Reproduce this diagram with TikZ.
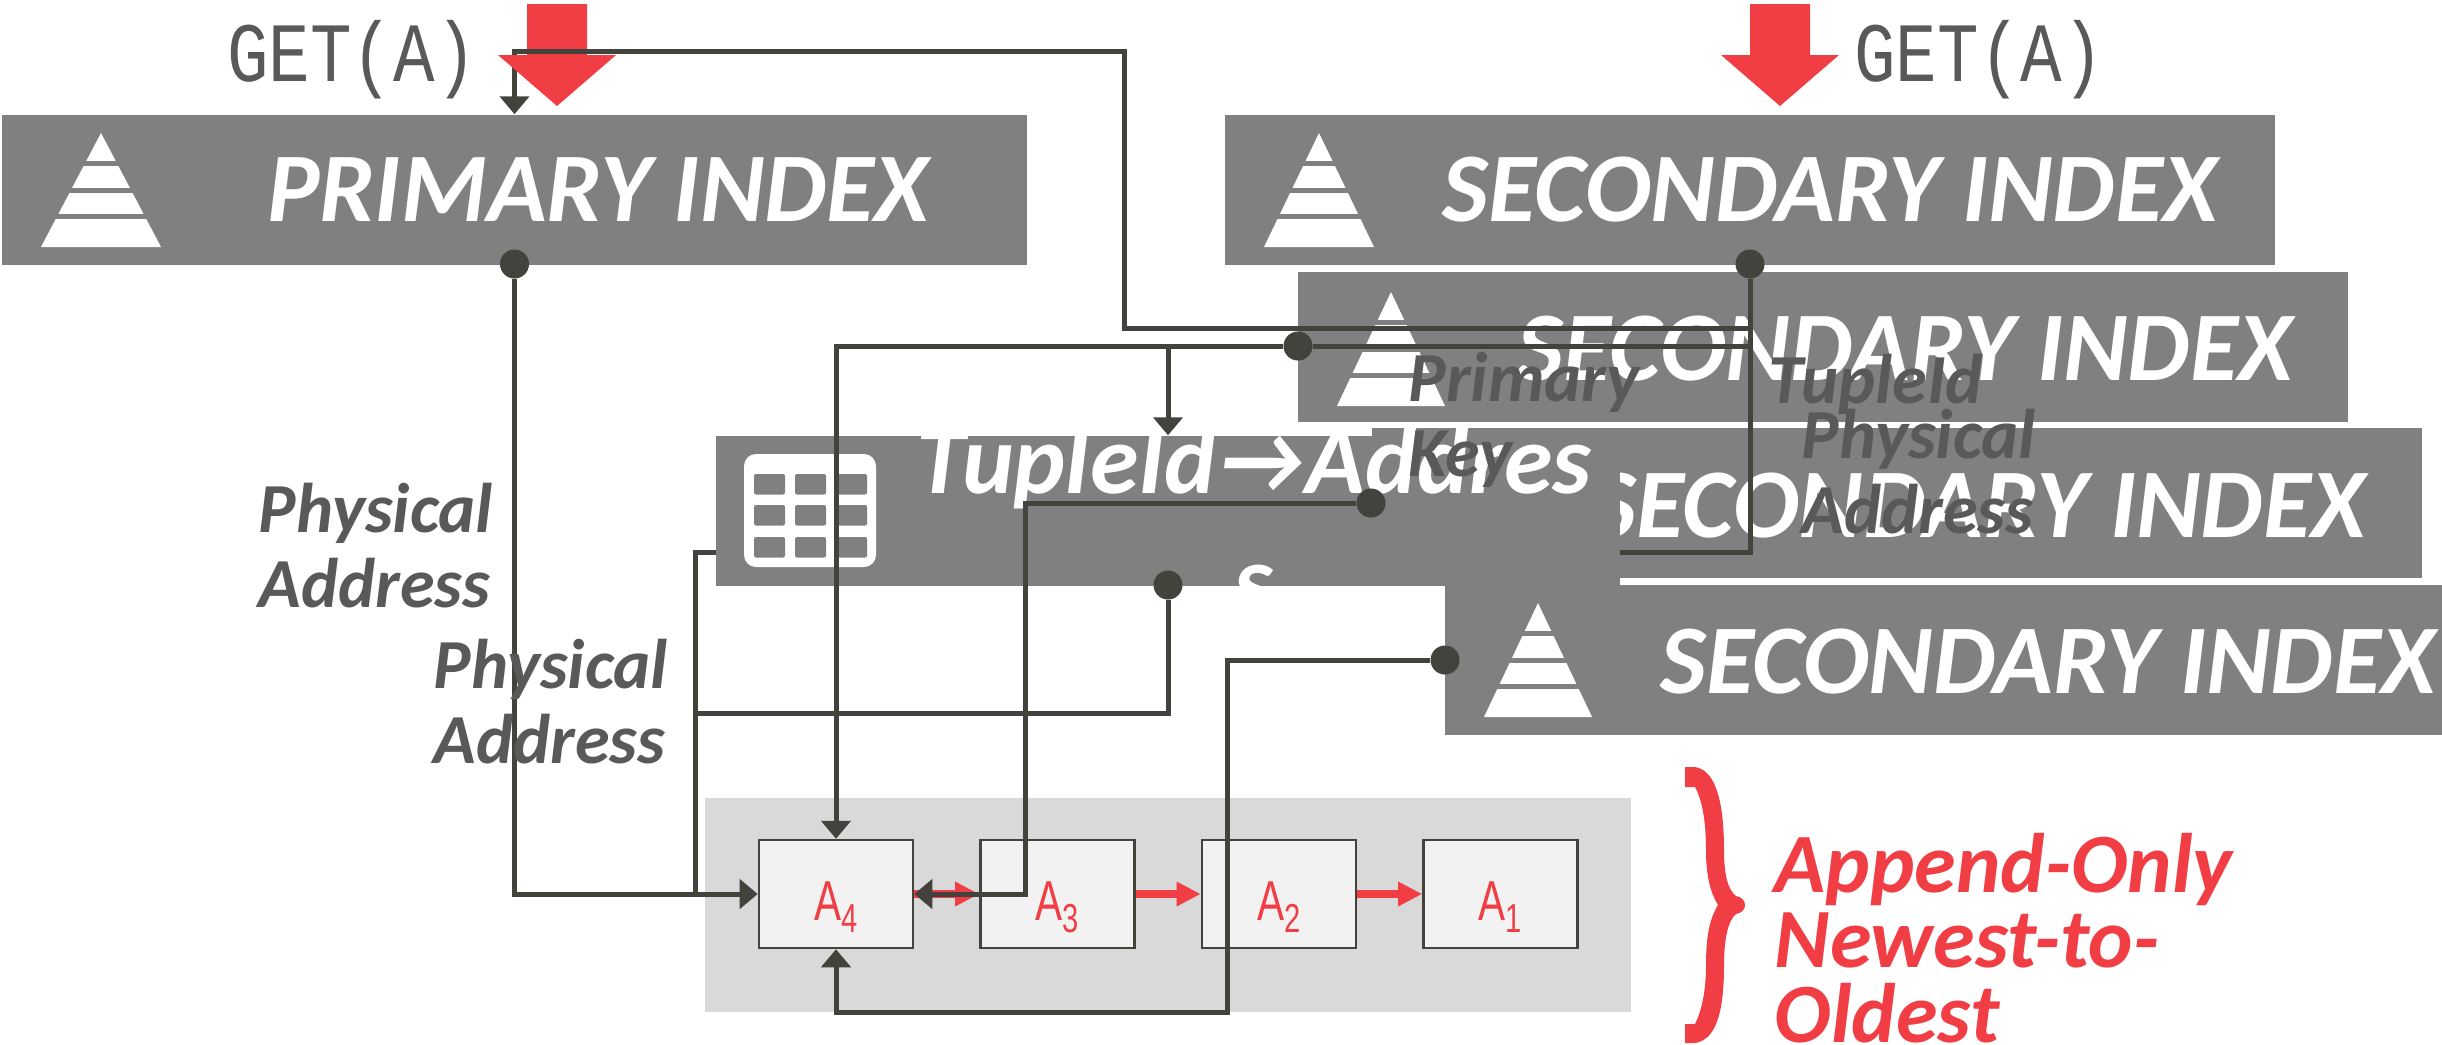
\documentclass[tikz,border=0pt]{standalone}
\usepackage{fontspec}
\setmainfont{Carlito}
\newfontfamily\getfont[FakeStretch=0.82]{Liberation Mono}
\newfontfamily\logfont[FakeStretch=0.72]{Liberation Sans}
\usetikzlibrary{arrows.meta}
\definecolor{boxgray}{HTML}{808080}
\definecolor{wiregray}{HTML}{43423D}
\definecolor{textgray}{HTML}{595959}
\definecolor{logred}{HTML}{F13E44}
\definecolor{logback}{HTML}{D9D9D9}
\definecolor{logfill}{HTML}{F2F2F2}
\newcommand{\logname}[1]{{\logfont\fontsize{16}{16}\selectfont A\raisebox{-3.4pt}{\fontsize{11.5}{11.5}\selectfont #1}}}
\newcommand{\pyramid}[3]{
    \fill[white] (#1,#2) -- (#1+#3,#2+114) -- (#1-#3,#2+114) -- cycle;
    \foreach \s in {30.5,57,83.5}
        \draw[boxgray, line width=.05cm] (#1-#3,#2+\s) -- (#1+#3,#2+\s);
}
\tikzset{
    indexbox/.style={fill=boxgray, minimum height=1.5cm, inner sep=0pt},
    indextext/.style={text=white, font=\fontsize{28}{34}\selectfont\bfseries\itshape, inner sep=0pt},
    dot/.style={circle, fill=wiregray, minimum size=.29cm, inner sep=0pt},
    wire/.style={draw=wiregray, line width=.05cm, rounded corners=0pt},
    wiretip/.style={-{Triangle[length=.18cm, width=.29cm]}},
    logbox/.style={draw=wiregray, fill=logfill, line width=.025cm, minimum width=1.54cm, text height=23pt, text depth=7.7pt, inner sep=0pt, text=logred},
    logarrow/.style={draw=logred, line width=.08cm, -{Triangle[length=.24cm, width=.23cm]}},
    label/.style={text=textgray, font=\fontsize{20}{21.3}\selectfont\bfseries\itshape, align=left, inner sep=0pt},
}
\begin{document}
\begin{tikzpicture}[x=.01cm, y=-.01cm]
    \useasboundingbox (0,0) rectangle (2442,1044);
    % log
    \node[fill=logback, minimum width=9.26cm, minimum height=2.14cm, inner sep=0pt](log) at (1168,905) {};
    \node[logbox](a_4)                          at (836,894) {\logname{4}};
    \node[logbox](a_3)                          at (1057.5,894) {\logname{3}};
    \node[logbox](a_2)                          at (1279,894) {\logname{2}};
    \node[logbox](a_1)                          at (1500.5,894) {\logname{1}};
    \path
        (a_4.east) edge [logarrow] (a_3.west)
        (a_3.east) edge [logarrow] (a_2.west)
        (a_2.east) edge [logarrow] (a_1.west);
    % indexes
    \node[indexbox, minimum width=10.25cm](primary) at (514.5,190) {};
    \pyramid{101}{133}{60}
    \node[indextext](primary_text)              at (598,190) {PRIMARY INDEX};
    \node[indexbox, minimum width=10.5cm](sec_one) at (1750,190) {};
    \pyramid{1319}{133}{55}
    \node[indextext](sec_one_text)              at (1830,190) {SECONDARY INDEX};
    \node[indexbox, minimum width=10.5cm](sec_two) at (1823,347) {};
    \pyramid{1391}{292}{54}
    \node[indextext](sec_two_text)              at (1905,349) {SECONDARY INDEX};
    \node[indexbox, minimum width=10.5cm](sec_three) at (1897,503) {};
    \node[indextext](sec_three_text)            at (1978,506) {SECONDARY INDEX};
    \node[dot](sec_one_dot)                     at (1750,264) {};
    \coordinate (read_turn)                     at (1124,328);
    \coordinate (read_top)                      at (1124,51);
    \coordinate (behind_tuple)                  at (695,552);
    % runs behind the tuple box
    \draw[wire] (sec_one_dot) |- (behind_tuple) -- (behind_tuple |- a_4.west);
    \draw[wire, wiretip] (sec_one_dot |- read_turn) -- (read_turn) -- (read_top) -| (primary.north);
    % tuple box
    \node[indexbox, minimum width=9.04cm](tuple) at (1168,511) {};
    \fill[white, rounded corners=.12cm] (744,454) rectangle (876,567);
    \foreach \x in {754,795,836}
        \foreach \y in {474,505,537}
            \fill[boxgray, rounded corners=.02cm] (\x,\y) rectangle (\x+31,\y+20.5);
    \node[indextext, align=center, anchor=north](tuple_text) at (1254,424) {TupleId→Addres\\s};
    \node[indexbox, minimum width=10cm](sec_four) at (1945,660) {};
    \pyramid{1538}{603}{54}
    \node[indextext](sec_four_text)             at (2048,662) {SECONDARY INDEX};
    % wires
    \node[dot](primary_dot)                     at (514.5,264) {};
    \node[dot](sec_two_dot)                     at (1298,346) {};
    \node[dot](sec_three_dot)                   at (1371,503) {};
    \node[dot](sec_four_dot)                    at (1445,660) {};
    \node[dot](tuple_dot)                       at (1168,585) {};
    \coordinate (tuple_turn)                    at (695,713);
    \coordinate (key_turn)                      at (1025,894);
    \coordinate (log_turn)                      at (1227,1012);
    \draw[wire, wiretip] (primary_dot) |- (a_4.west);
    \draw[wire, wiretip] (sec_two_dot) -| (a_4.north);
    \draw[wire] (sec_two_dot) -- (sec_one_dot |- sec_two_dot);
    \draw[wire, wiretip] (tuple_dot |- sec_two_dot) -- (tuple.north);
    \draw[wire] (tuple_dot) |- (tuple_turn);
    \draw[wire, wiretip] (sec_three_dot) -| (key_turn) -- (a_4.east);
    \draw[wire, wiretip] (sec_four_dot) -| (log_turn) -| (a_4.south);
    % request arrows
    \foreach \x in {557,1780}
        \fill[logred] (\x-30,4) -- (\x+30,4) -- (\x+30,55) -- (\x+59,55) -- (\x,106) -- (\x-59,55) -- (\x-30,55) -- cycle;
    \draw[wire] (read_top) -- (primary.north |- read_top);
    \node[text=textgray, font=\getfont\fontsize{24}{24}\selectfont, inner sep=0pt, anchor=base](get_left) at (352,81) {GET(A)};
    \node[text=textgray, font=\getfont\fontsize{24}{24}\selectfont, inner sep=0pt, anchor=base](get_right) at (1979,81) {GET(A)};
    % labels
    \node[label, anchor=west](label_left)       at (258,546) {Physical\\Address};
    \node[label, anchor=west](label_mid)        at (433,702) {Physical\\Address};
    \node[label, anchor=west](label_key)        at (1408,420) {Primary\\Key};
    \node[label, anchor=base west](label_tuple) at (1768,403) {TupleId};
    \node[label, anchor=west](label_phys)       at (1801,472) {Physical\\Address};
    % brace
    \fill[logred] (1685,767) -- (1695,767) .. controls (1715,770) and (1724,800) .. (1724,850)
        .. controls (1724,875) and (1728,890) .. (1736,896) .. controls (1748,898) and (1748,912) .. (1736,914)
        .. controls (1728,920) and (1724,940) .. (1724,965) .. controls (1724,1015) and (1715,1040) .. (1695,1043)
        -- (1685,1043) -- (1685,1024) -- (1695,1024) .. controls (1702,1010) and (1706,990) .. (1706,965)
        .. controls (1706,935) and (1710,918) .. (1718,905) .. controls (1710,892) and (1706,875) .. (1706,850)
        .. controls (1706,820) and (1702,800) .. (1695,787) -- (1685,787) -- cycle;
    \node[text=logred, font=\fontsize{24}{21.3}\selectfont\bfseries\itshape, align=left, inner sep=0pt, anchor=west](log_text) at (1774,938) {Append-Only\\Newest-to-\\Oldest};
\end{tikzpicture}
\end{document}
